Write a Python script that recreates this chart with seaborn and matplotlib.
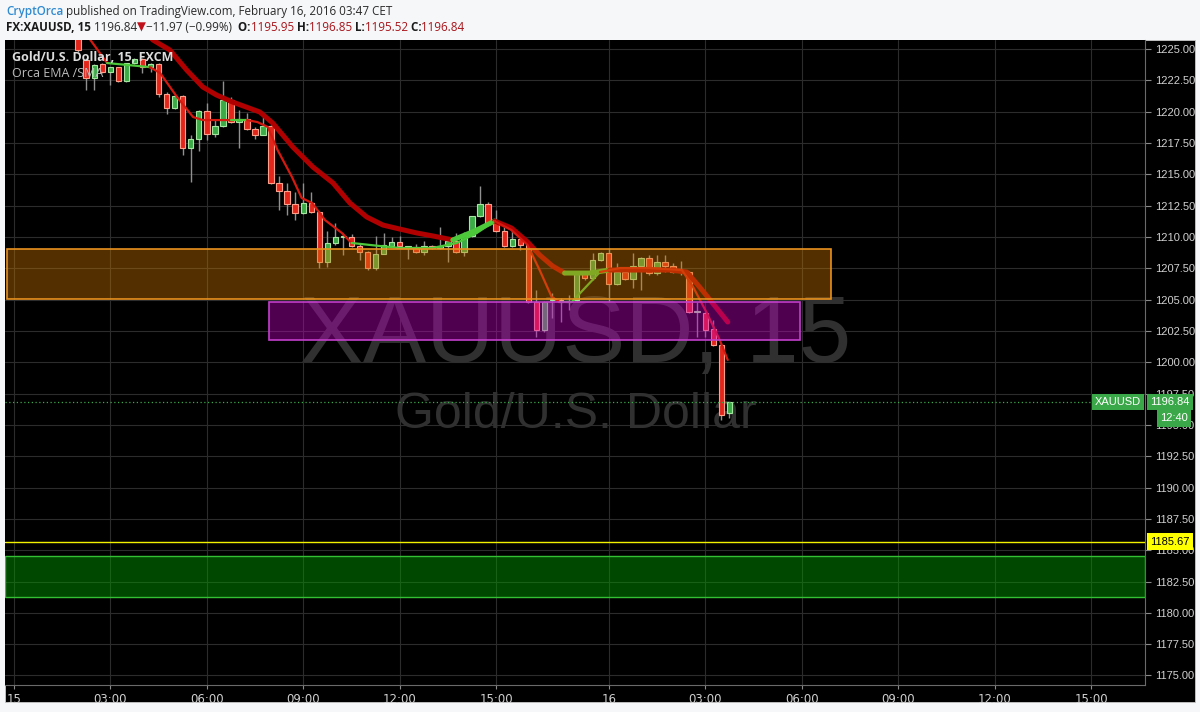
import numpy as np
import pandas as pd
import matplotlib
matplotlib.use("Agg")
import matplotlib.pyplot as plt
import matplotlib.transforms as mtransforms
from matplotlib.patches import Rectangle
import seaborn as sns

# ---------------- data ----------------
bar_index = list(range(8, 90))
opens = [1226.30, 1224.12, 1222.69, 1223.80, 1223.16, 1223.56, 1222.45, 1223.88, 1224.20, 1223.56,
         1223.80, 1221.41, 1220.29, 1221.25, 1217.10, 1217.82, 1220.05, 1218.22, 1218.85, 1220.93,
         1219.17, 1219.41, 1218.62, 1218.14, 1218.85, 1214.31, 1213.67, 1212.63, 1211.91, 1212.71,
         1211.99, 1208.00, 1209.52, 1210.00, 1210.00, 1209.28, 1208.80, 1207.52, 1208.64, 1209.28,
         1209.60, 1209.20, 1209.20, 1208.80, 1209.28, 1209.12, 1209.28, 1209.68, 1208.80, 1210.08,
         1211.67, 1212.63, 1211.11, 1210.47, 1209.28, 1209.84, 1209.36, 1204.81, 1202.57, 1204.95,
         1204.97, 1204.81, 1204.97, 1207.12, 1206.72, 1208.16, 1208.72, 1206.24, 1207.20, 1206.64,
         1207.68, 1208.32, 1207.12, 1208.00, 1207.68, 1207.25, 1207.20, 1204.01, 1203.93, 1202.65,
         1201.38, 1195.95]
highs = [1226.60, 1224.30, 1223.80, 1223.90, 1223.60, 1223.60, 1223.90, 1224.30, 1224.30, 1223.90,
         1223.90, 1221.57, 1221.30, 1221.30, 1218.14, 1220.10, 1220.69, 1219.33, 1222.45, 1221.17,
         1220.13, 1219.89, 1218.77, 1219.57, 1218.90, 1214.86, 1214.31, 1213.59, 1214.31, 1213.59,
         1212.10, 1210.47, 1211.11, 1210.32, 1210.24, 1209.52, 1208.90, 1210.08, 1210.32, 1210.00,
         1210.08, 1209.28, 1209.44, 1209.68, 1209.35, 1210.79, 1209.75, 1210.32, 1210.39, 1211.70,
         1214.07, 1212.79, 1212.15, 1210.87, 1210.71, 1210.24, 1209.40, 1205.77, 1204.90, 1205.53,
         1205.10, 1205.37, 1207.20, 1207.20, 1208.72, 1208.80, 1209.12, 1207.92, 1207.30, 1208.72,
         1208.40, 1208.56, 1208.56, 1208.56, 1207.92, 1208.10, 1207.30, 1204.81, 1204.00, 1203.37,
         1201.50, 1196.85]
lows = [1224.80, 1221.73, 1221.73, 1223.10, 1222.13, 1222.40, 1222.40, 1223.80, 1223.08, 1223.16,
        1221.17, 1219.81, 1220.20, 1216.54, 1214.39, 1216.86, 1217.74, 1217.98, 1218.80, 1219.10,
        1217.10, 1218.50, 1217.82, 1218.10, 1214.20, 1212.15, 1211.75, 1211.35, 1211.80, 1211.90,
        1207.52, 1207.60, 1209.36, 1208.56, 1209.20, 1208.16, 1207.40, 1207.40, 1208.60, 1209.20,
        1209.20, 1208.24, 1208.70, 1208.56, 1209.00, 1209.00, 1208.00, 1208.70, 1208.48, 1210.00,
        1211.60, 1211.00, 1210.40, 1209.20, 1209.20, 1208.96, 1204.70, 1202.01, 1202.41, 1203.53,
        1203.20, 1204.17, 1204.90, 1206.60, 1206.60, 1208.10, 1204.81, 1206.20, 1206.60, 1205.93,
        1205.77, 1207.00, 1207.00, 1207.20, 1207.10, 1207.00, 1203.90, 1202.01, 1202.01, 1201.30,
        1195.39, 1195.52]
closes = [1224.90, 1222.69, 1223.72, 1223.16, 1223.56, 1222.45, 1223.88, 1224.20, 1223.56, 1223.80,
          1221.41, 1220.29, 1221.25, 1217.10, 1217.82, 1220.05, 1218.22, 1218.85, 1220.93, 1219.17,
          1219.41, 1218.62, 1218.14, 1218.85, 1214.31, 1213.67, 1212.63, 1211.91, 1212.71, 1211.99,
          1208.00, 1209.52, 1210.00, 1210.05, 1209.28, 1208.80, 1207.52, 1208.64, 1209.36, 1209.60,
          1209.28, 1209.22, 1208.80, 1209.28, 1209.12, 1209.28, 1209.68, 1208.80, 1210.08, 1211.67,
          1212.63, 1211.11, 1210.47, 1209.28, 1209.84, 1209.36, 1204.81, 1202.57, 1204.81, 1204.99,
          1204.81, 1204.85, 1207.12, 1206.72, 1208.16, 1208.72, 1206.24, 1207.20, 1206.64, 1207.68,
          1208.32, 1207.12, 1208.00, 1207.68, 1207.20, 1207.22, 1204.01, 1204.05, 1202.57, 1201.38,
          1195.79, 1196.84]

# "Orca EMA / SMA" lines (slow = thick, fast = thin)
slow_i = [14.0, 17.3, 19.4, 21.5, 23.5, 25.2, 27.2, 30.6, 32.2, 34.7, 37.2, 39.7, 41.8, 43.9, 45.9,
          48.0, 50.1, 52.1, 54.6, 57.3, 59.8, 61.9, 63.9, 65.4, 67.0, 68.5, 71.6, 74.1, 77.9, 81.6,
          83.7, 85.3, 86.9, 88.8]
slow_p = [1227.90, 1225.72, 1224.92, 1223.32, 1221.97, 1221.33, 1220.77, 1219.97, 1219.09, 1217.18,
          1215.58, 1214.31, 1212.71, 1211.59, 1210.95, 1210.63, 1210.32, 1210.08, 1209.76, 1210.47,
          1211.27, 1210.71, 1209.60, 1208.56, 1207.68, 1207.12, 1207.12, 1207.36, 1207.36, 1207.36,
          1207.20, 1206.00, 1204.73, 1203.21]
slow_dir = ["dn"] * 18 + ["up", "up"] + ["dn"] * 5 + ["up", "up"] + ["dn"] * 7

fast_i = [8.5, 9.8, 11.6, 16.9, 18.2, 20.3, 22.3, 23.5, 27.0, 29.0, 30.3, 31.6, 32.8, 34.6, 35.8,
          37.1, 38.7, 40.8, 42.0, 45.5, 48.0, 52.1, 55.1, 57.6, 59.8, 61.9, 63.9, 65.4, 66.9, 67.9,
          69.4, 72.9, 75.4, 79.1, 83.1, 84.5, 86.2, 87.8, 88.8]
fast_p = [1226.60, 1225.48, 1223.88, 1223.56, 1223.08, 1221.17, 1219.57, 1219.33, 1219.33, 1219.33,
          1219.17, 1218.77, 1216.94, 1214.78, 1213.11, 1212.71, 1211.35, 1210.32, 1209.52, 1209.28,
          1209.12, 1209.12, 1209.52, 1210.32, 1211.27, 1210.55, 1209.36, 1207.36, 1205.21, 1204.81,
          1204.81, 1207.20, 1207.52, 1207.52, 1207.36, 1206.00, 1203.93, 1201.78, 1200.18]
fast_dir = (["dn", "dn", "up"] + ["dn"] * 5 + ["up"] + ["dn"] * 9 + ["up"] * 6 + ["dn"] * 5
            + ["up", "up"] + ["dn"] * 8)

# zones
orange_zone = (1205.05, 1209.04, 101.6)          # low, high, right end (bar)
purple_zone = (1201.80, 1204.80, 31.8, 97.8)     # low, high, left, right
green_zone = (1181.30, 1184.50)
yellow_level = 1185.67
last_price = 1196.84

xtick_pos = [0, 12, 24, 36, 48, 60, 74, 86, 98, 110, 122, 134]
xtick_lab = ["15", "03:00", "06:00", "09:00", "12:00", "15:00", "16",
             "03:00", "06:00", "09:00", "12:00", "15:00"]
ytick_vals = list(np.arange(1175.0, 1225.01, 2.5))

# ---------------- style ----------------
sns.set_theme(style="dark")
plt.rcParams["font.family"] = ["DejaVu Sans"]

W, H = 1200, 712
fig = plt.figure(figsize=(12, 7.12), dpi=100)
fig.patch.set_facecolor("#f6f7f9")
fig.patches.append(Rectangle((5 / W, 10 / H), 1190 / W, 662 / H, transform=fig.transFigure,
                             facecolor="black", edgecolor="#c8c8c8", lw=0.6, zorder=-5))

ax = fig.add_axes([5 / W, (H - 685) / H, 1140 / W, 645 / H])
ax.set_zorder(1)
ax.set_facecolor("black")
XMIN, XMAX = -1.1, 140.7
YMIN, YMAX = 1174.24, 1225.72
ax.set_xlim(XMIN, XMAX)
ax.set_ylim(YMIN, YMAX)

for s in ["top", "left"]:
    ax.spines[s].set_visible(False)
for s in ["right", "bottom"]:
    ax.spines[s].set_color("#6a6a6a")
    ax.spines[s].set_linewidth(0.8)

ax.yaxis.tick_right()
ax.set_yticks(ytick_vals)
ax.set_yticklabels([f"{v:.2f}" for v in ytick_vals], family=["Liberation Sans", "DejaVu Sans"])
ax.set_xticks(xtick_pos)
ax.set_xticklabels(xtick_lab, family=["Liberation Sans Narrow", "DejaVu Sans"])
ax.tick_params(axis="y", colors="#8a8a8a", labelcolor="#d0d0d0", labelsize=8, length=4,
               width=0.8, pad=3, right=True)
ax.tick_params(axis="x", colors="#8a8a8a", labelcolor="#d0d0d0", labelsize=8.5, length=3,
               width=0.8, pad=3, bottom=True)
ax.grid(True, color="#2c2c2c", lw=0.8)
ax.set_axisbelow(True)

# watermark
ax.text(0.5009, 0.5395, "XAUUSD, 15", transform=ax.transAxes, ha="center", va="center",
        fontsize=68, color="#303030", family="Liberation Sans", zorder=1)
ax.text(0.5009, 0.4186, "Gold/U.S. Dollar", transform=ax.transAxes, ha="center", va="center",
        fontsize=36, color="#303030", family="Liberation Sans", zorder=1)

# ---------------- candles ----------------
df = pd.DataFrame({"i": bar_index, "o": opens, "h": highs, "l": lows, "c": closes})
df["up"] = df["c"] >= df["o"]
df["bot"] = df[["o", "c"]].min(axis=1)
df["hgt"] = (df["c"] - df["o"]).abs().clip(lower=0.09)

ax.vlines(df["i"], df["l"], df["h"], color="#909090", lw=1.0, zorder=2)
up = df[df["up"]]
dn = df[~df["up"]]
ax.bar(up["i"], up["hgt"], bottom=up["bot"], width=0.68, color="#3daa48",
       edgecolor="#a5e6a0", linewidth=0.8, zorder=3)
ax.bar(dn["i"], dn["hgt"], bottom=dn["bot"], width=0.68, color="#e2261c",
       edgecolor="#ffa08a", linewidth=0.8, zorder=3)

# ---------------- moving-average lines ----------------
def draw_ma(xs, ys, dirs, lw, red):
    colors = {"up": "#4cc83a", "dn": red}
    k = 0
    n = len(xs)
    while k < n - 1:
        j = k
        while j + 1 < n - 1 and dirs[j + 1] == dirs[k]:
            j += 1
        seg = pd.DataFrame({"x": xs[k:j + 2], "y": ys[k:j + 2]})
        sns.lineplot(data=seg, x="x", y="y", ax=ax, color=colors[dirs[k]], lw=lw,
                     sort=False, estimator=None, zorder=4, solid_capstyle="round")
        k = j + 1

draw_ma(slow_i, slow_p, slow_dir, 3.6, "#b00000")
draw_ma(fast_i, fast_p, fast_dir, 1.6, "#d41a10")
ax.set_xlabel("")
ax.set_ylabel("")
ax.set_xlim(XMIN, XMAX)
ax.set_ylim(YMIN, YMAX)

# ---------------- zones ----------------
lo, hi, right = orange_zone
ax.add_patch(Rectangle((XMIN + 0.2, lo), right - XMIN - 0.2, hi - lo,
                       facecolor=(0.82, 0.47, 0.0, 0.40), edgecolor="#e8911f", lw=1.2, zorder=5))
lo, hi, left, right = purple_zone
ax.add_patch(Rectangle((left, lo), right - left, hi - lo,
                       facecolor=(0.78, 0.0, 0.78, 0.40), edgecolor="#c23fca", lw=1.2, zorder=5))
lo, hi = green_zone
ax.add_patch(Rectangle((XMIN, lo), XMAX - XMIN, hi - lo,
                       facecolor=(0.0, 0.62, 0.0, 0.45), edgecolor="#34c034", lw=1.0, zorder=5))
ax.axhline(yellow_level, color="#f2f200", lw=1.0, zorder=6)
ax.axhline(last_price, color="#3aa848", lw=0.9, ls=(0, (1, 2)), zorder=6)

# ---------------- price tags ----------------
blend = mtransforms.blended_transform_factory(ax.transAxes, ax.transData)
tag_font = dict(fontsize=8, zorder=20, clip_on=False, va="center",
                family=["Liberation Sans", "DejaVu Sans"])
ax.text(0.9965, last_price, "XAUUSD", transform=blend, ha="right", color="white",
        bbox=dict(boxstyle="square,pad=0.3", fc="#3aa848", ec="none"), **tag_font)
ax.text(1.0045, last_price, "1196.84", transform=blend, ha="left", color="white",
        bbox=dict(boxstyle="square,pad=0.3", fc="#3aa848", ec="none"), **tag_font)
ax.text(1.0375, 1195.52, "12:40", transform=blend, ha="right", color="white",
        bbox=dict(boxstyle="square,pad=0.3", fc="#3aa848", ec="none"), **tag_font)
ax.text(1.0045, yellow_level, "1185.67", transform=blend, ha="left", color="black",
        bbox=dict(boxstyle="square,pad=0.3", fc="#ffff00", ec="none"), **tag_font)

# legend text inside the pane
ax.text(0.0061, 0.9736, "Gold/U.S. Dollar, 15, FXCM", transform=ax.transAxes, ha="left",
        va="center", fontsize=9, color="#dcdcdc", fontweight="bold", zorder=21,
        family=["Open Sans", "DejaVu Sans"])
ax.text(0.0061, 0.9488, "Orca EMA /SMA", transform=ax.transAxes, ha="left", va="center",
        fontsize=9, color="#bdbdbd", zorder=21, family=["Open Sans", "DejaVu Sans"])

# ---------------- header ----------------
renderer = fig.canvas.get_renderer()

def header_line(parts, x_px, base_px):
    x = x_px
    for txt, col, wt in parts:
        t = fig.text(x / W, 1 - base_px / H, txt, color=col, fontweight=wt, fontsize=8.4,
                     va="baseline", ha="left", family=["Open Sans", "DejaVu Sans"])
        x += t.get_window_extent(renderer).width

header_line([("CryptOrca", "#2f8ad0", "semibold"),
             (" published on TradingView.com, February 16, 2016 03:47 CET", "#2a2a2a", "normal")],
            6, 15)
header_line([("FX:XAUUSD, 15", "#1a1a1a", "bold"),
             (" 1196.84", "#2a2a2a", "normal"),
             ("\u25BC", "#c0101a", "normal"),
             ("\u221211.97 (\u22120.99%)", "#2a2a2a", "normal"),
             ("  O:", "#1a1a1a", "bold"), ("1195.95", "#a8141a", "normal"),
             (" H:", "#1a1a1a", "bold"), ("1196.85", "#a8141a", "normal"),
             (" L:", "#1a1a1a", "bold"), ("1195.52", "#a8141a", "normal"),
             (" C:", "#1a1a1a", "bold"), ("1196.84", "#a8141a", "normal")],
            6, 31)

fig.savefig("out.png", dpi=100, facecolor=fig.get_facecolor())
